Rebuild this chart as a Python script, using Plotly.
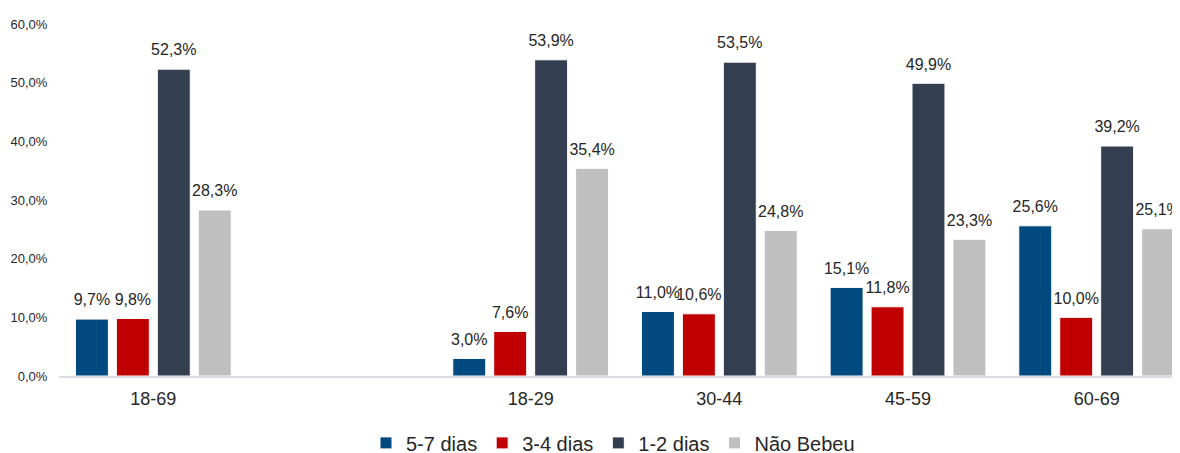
import plotly.graph_objects as go

categories = ["18-69", " ", "18-29", "30-44", "45-59", "60-69"]
series_names = ["5-7 dias", "3-4 dias", "1-2 dias", "Não Bebeu"]
v_5_7 = [9.7, None, 3.0, 11.0, 15.1, 25.6]
v_3_4 = [9.8, None, 7.6, 10.6, 11.8, 10.0]
v_1_2 = [52.3, None, 53.9, 53.5, 49.9, 39.2]
v_nao = [28.3, None, 35.4, 24.8, 23.3, 25.1]
colors = ["#004A80", "#C00000", "#333F50", "#BFBFBF"]
y_ticks = [0, 10, 20, 30, 40, 50, 60]
y_ticktext = [("%.1f%%" % t).replace(".", ",") for t in y_ticks]

series = [v_5_7, v_3_4, v_1_2, v_nao]
FONT = "Liberation Sans, Arial, sans-serif"

fig = go.Figure()
for i, (name, vals, col) in enumerate(zip(series_names, series, colors)):
    fig.add_trace(go.Bar(
        x=categories, y=vals, name=name, offsetgroup=str(i),
        marker=dict(color=col, line=dict(color="white", width=1)),
        hoverinfo="skip",
    ))
for i, (name, vals, col) in enumerate(zip(series_names, series, colors)):
    fig.add_trace(go.Scatter(
        x=categories, y=vals, offsetgroup=str(i), mode="markers+text",
        marker=dict(size=14, opacity=0),
        text=[("%.1f%%" % v).replace(".", ",") if v is not None else "" for v in vals],
        textposition="top center",
        textfont=dict(family=FONT, size=16, color="#262626"),
        showlegend=False, hoverinfo="skip", cliponaxis=False,
    ))

fig.update_layout(
    width=1180, height=453,
    margin=dict(l=51, r=0, t=16, b=85, autoexpand=False),
    paper_bgcolor="white", plot_bgcolor="white",
    barmode="group", bargap=0.132, bargroupgap=0.195,
    scattermode="group", scattergap=0.132,
    separators=",.",
    font=dict(family=FONT, color="#262626"),
    showlegend=True,
    legend=dict(orientation="h", x=0.4907, xanchor="center", xref="paper",
                y=-0.19, yanchor="middle", font=dict(size=20, family=FONT),
                itemclick=False, traceorder="normal", itemwidth=30,
                tracegroupgap=0),
)
fig.update_xaxes(
    type="category", categoryorder="array", categoryarray=categories,
    range=[-0.5, 5.484], showline=True, linecolor="#D9DDE3", linewidth=1.5,
    showgrid=False, ticks="", tickfont=dict(size=18, family=FONT, color="#262626"),
    ticklabelstandoff=6,
    fixedrange=True, automargin=False,
)
fig.update_yaxes(
    range=[0, 60], tickvals=y_ticks, ticktext=y_ticktext,
    showgrid=False, zeroline=False, showline=False,
    tickfont=dict(size=13, family=FONT, color="#262626"),
    ticks="outside", ticklen=8, tickcolor="rgba(0,0,0,0)", fixedrange=True,
    automargin=False,
)

fig.write_html("out.html")
